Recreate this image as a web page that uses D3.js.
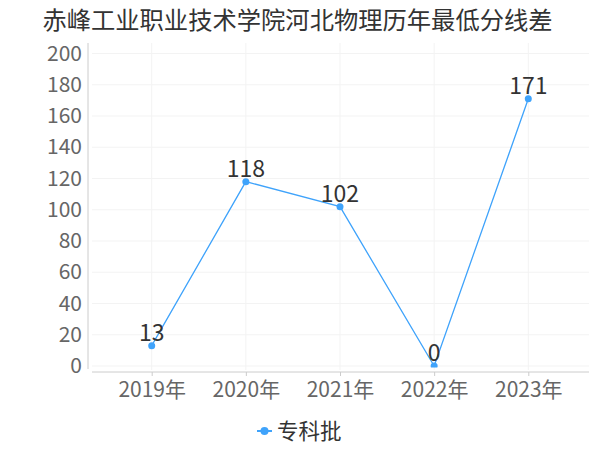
<!DOCTYPE html>
<html>
<head>
<meta charset="utf-8">
<script src="https://cdn.jsdelivr.net/npm/d3@7"></script>
<style>
  body { margin: 0; background: #fff; }
  text { font-family: "Noto Sans CJK SC", "Noto Sans", sans-serif; }
</style>
</head>
<body>
<div id="chart"></div>
<script>
// data
const years = ['2019年', '2020年', '2021年', '2022年', '2023年']
const values = [13, 118, 102, 0, 171]
const yTicks = [0, 20, 40, 60, 80, 100, 120, 140, 160, 180, 200]
const seriesName = '专科批'
const title = '赤峰工业职业技术学院河北物理历年最低分线差'

const color = '#3fa3fb'

const svg = d3.select('#chart')
  .append('svg')
  .attr('width', 600)
  .attr('height', 450)

// scales
const xScale = d3.scalePoint()
  .domain(years)
  .range([151.7, 528.3])

const yScale = d3.scaleLinear()
  .domain([0, 200])
  .range([366, 53.5])

// title
svg.append('text')
  .attr('x', 297.5)
  .attr('y', 29)
  .attr('text-anchor', 'middle')
  .attr('font-size', 24.3)
  .attr('fill', '#333')
  .text(title)

// grid lines
svg.append('g')
  .selectAll('line')
  .data(yTicks)
  .join('line')
  .attr('x1', 92)
  .attr('x2', 589)
  .attr('y1', d => yScale(d))
  .attr('y2', d => yScale(d))
  .attr('stroke', '#f3f3f3')

svg.append('g')
  .selectAll('line')
  .data(years)
  .join('line')
  .attr('x1', d => xScale(d))
  .attr('x2', d => xScale(d))
  .attr('y1', 43)
  .attr('y2', 370)
  .attr('stroke', '#f3f3f3')

// y axis
const yAxis = d3.axisLeft(yScale)
  .tickValues(yTicks)
  .tickSize(0)
  .tickPadding(6)
const yAxisGroup = svg.append('g')
  .attr('transform', 'translate(88,0)')
  .call(yAxis)
yAxisGroup.select('.domain').remove()
yAxisGroup.selectAll('text')
  .attr('font-size', 21)
  .attr('fill', '#666')
  .attr('font-family', '"Noto Sans CJK SC", sans-serif')
svg.append('line')
  .attr('x1', 88).attr('x2', 88)
  .attr('y1', 43).attr('y2', 369)
  .attr('stroke', '#ccc')

// x axis
const xAxis = d3.axisBottom(xScale)
  .tickSize(4)
  .tickPadding(6)
const xAxisGroup = svg.append('g')
  .attr('transform', 'translate(0,372)')
  .call(xAxis)
xAxisGroup.select('.domain').remove()
xAxisGroup.selectAll('line').attr('stroke', '#ccc')
xAxisGroup.selectAll('text')
  .attr('font-size', 21)
  .attr('fill', '#666')
  .attr('font-family', '"Noto Sans CJK SC", sans-serif')
svg.append('line')
  .attr('x1', 92).attr('x2', 589)
  .attr('y1', 372).attr('y2', 372)
  .attr('stroke', '#ccc')

// clip so the dot at 0 is cut at the bottom
svg.append('clipPath')
  .attr('id', 'plotclip')
  .append('rect')
  .attr('x', 88).attr('y', 40)
  .attr('width', 510).attr('height', yScale(0) + 1.5 - 40)

const plot = svg.append('g').attr('clip-path', 'url(#plotclip)')

const line = d3.line()
  .x((d, i) => xScale(years[i]))
  .y(d => yScale(d))

plot.append('path')
  .datum(values)
  .attr('d', line)
  .attr('fill', 'none')
  .attr('stroke', color)
  .attr('stroke-width', 1.3)

plot.selectAll('circle')
  .data(values)
  .join('circle')
  .attr('cx', (d, i) => xScale(years[i]))
  .attr('cy', d => yScale(d))
  .attr('r', 3.5)
  .attr('fill', color)

// value labels
svg.append('g')
  .selectAll('text')
  .data(values)
  .join('text')
  .attr('x', (d, i) => xScale(years[i]))
  .attr('y', d => yScale(d) - 5)
  .attr('text-anchor', 'middle')
  .attr('font-size', 23)
  .attr('fill', '#333')
  .text(d => d)

// legend
const legend = svg.append('g').attr('transform', 'translate(0,431)')
legend.append('line')
  .attr('x1', 257).attr('x2', 272)
  .attr('stroke', color)
  .attr('stroke-width', 2)
legend.append('circle')
  .attr('cx', 264.5)
  .attr('r', 4)
  .attr('fill', color)
legend.append('text')
  .attr('x', 277)
  .attr('y', 8)
  .attr('font-size', 21.5)
  .attr('fill', '#333')
  .text(seriesName)
</script>
</body>
</html>
